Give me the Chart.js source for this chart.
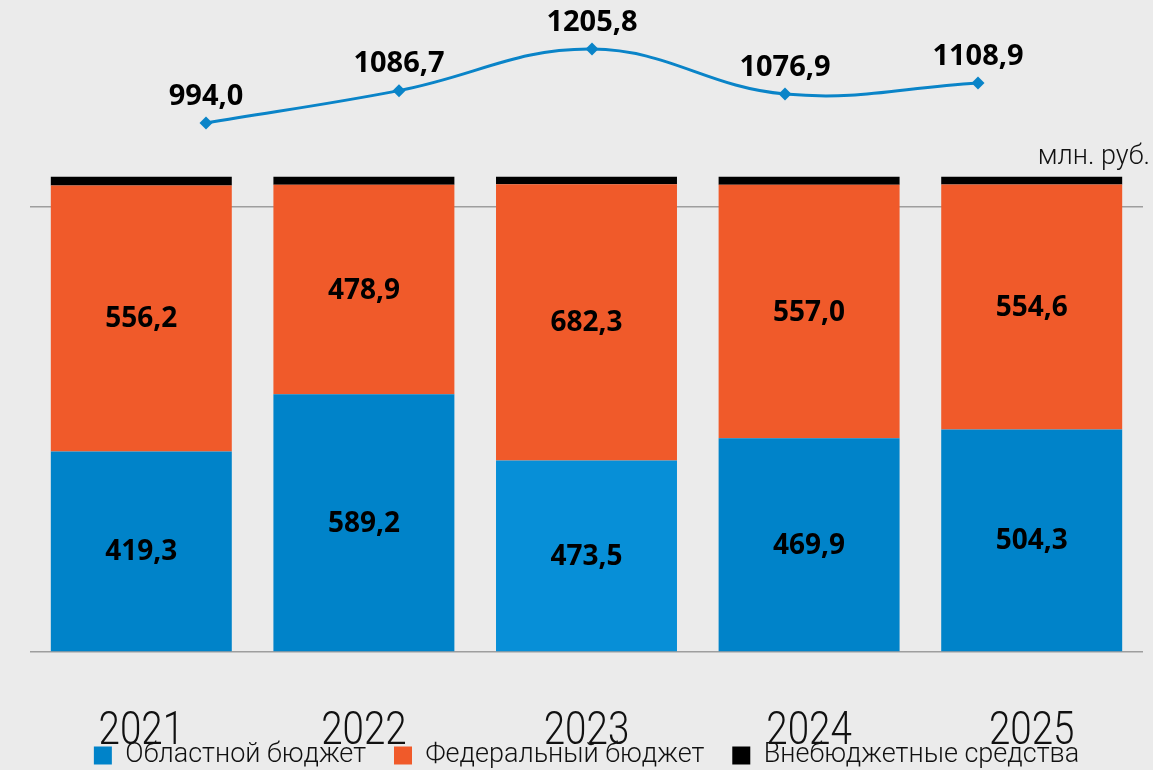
<!DOCTYPE html>
<html lang="ru">
<head>
<meta charset="utf-8">
<title>Бюджет по годам</title>
<script src="https://cdn.jsdelivr.net/npm/chart.js@4.4.1/dist/chart.umd.min.js"></script>
<style>
    html, body { margin: 0; padding: 0; background: #ebebeb; }
    #wrap { width: 1153px; height: 770px; }
</style>
</head>
<body>
<div id="wrap"><canvas id="chart" width="1153" height="770"></canvas></div>
<script>
// Данные (млн. руб.)
const years = ['2021', '2022', '2023', '2024', '2025'];
const regional = [419.3, 589.2, 473.5, 469.9, 504.3];   // Областной бюджет
const federal = [556.2, 478.9, 682.3, 557.0, 554.6];    // Федеральный бюджет
const offBudget = [18.5, 18.6, 19.0, 18.0, 18.0];       // Внебюджетные средства (оценка по рисунку)
const totals = [994.0, 1086.7, 1205.8, 1076.9, 1108.9];

const seriesNames = ['Областной бюджет', 'Федеральный бюджет', 'Внебюджетные средства'];

const BLUE = '#0083c9';
const BLUE_LIGHT = '#078fd7';
const ORANGE = '#f05a2a';
const BLACK = '#000000';
const LINE_BLUE = '#0a84c8';

// столбцы одинаковой высоты: доли от суммы
const sums = years.map((_, i) => regional[i] + federal[i] + offBudget[i]);
const share = arr => arr.map((v, i) => v / sums[i] * 100);

const fmt = v => v.toFixed(1).replace('.', ',');

const bgPlugin = {
    id: 'bg',
    beforeDraw(chart) {
        const { ctx, width, height } = chart;
        ctx.save();
        ctx.fillStyle = '#ebebeb';
        ctx.fillRect(0, 0, width, height);
        ctx.restore();
    },
};

const labelsPlugin = {
    id: 'valueLabels',
    afterDatasetsDraw(chart) {
        const { ctx } = chart;
        ctx.save();
        ctx.fillStyle = '#000';
        ctx.textAlign = 'center';

        // подписи внутри столбцов
        ctx.font = '700 28px "Open Sans", sans-serif';
        ctx.textBaseline = 'middle';
        [regional, federal].forEach((raw, di) => {
            chart.getDatasetMeta(di).data.forEach((bar, i) => {
                const yMid = (bar.y + bar.base) / 2;
                ctx.fillText(fmt(raw[i]), bar.x, yMid + 1);
            });
        });

        // подписи над линией
        ctx.font = '700 29px "Open Sans", sans-serif';
        ctx.textBaseline = 'bottom';
        chart.getDatasetMeta(3).data.forEach((pt, i) => {
            ctx.fillText(fmt(totals[i]), pt.x, pt.y - 12);
        });
        ctx.restore();
    },
    afterDraw(chart) {
        const { ctx } = chart;
        const xScale = chart.scales.x;
        ctx.save();
        ctx.fillStyle = '#111';

        // годы под столбцами (узкий светлый шрифт)
        ctx.font = '300 47px Roboto, sans-serif';
        ctx.textAlign = 'center';
        ctx.textBaseline = 'alphabetic';
        years.forEach((y, i) => {
            const x = xScale.getPixelForValue(i);
            ctx.save();
            ctx.translate(x, 744);
            ctx.scale(0.82, 1);
            ctx.fillText(y, 0, 0);
            ctx.restore();
        });

        // единицы измерения
        ctx.font = '300 27px Roboto, sans-serif';
        ctx.textAlign = 'right';
        ctx.fillText('млн. руб.', 1150, 164);
        ctx.restore();
    },
};

new Chart(document.getElementById('chart'), {
    type: 'bar',
    data: {
        labels: years,
        datasets: [
            {
                label: seriesNames[0],
                data: share(regional),
                backgroundColor: years.map(y => (y === '2023' ? BLUE_LIGHT : BLUE)),
                order: 2,
            },
            {
                label: seriesNames[1],
                data: share(federal),
                backgroundColor: ORANGE,
                order: 2,
            },
            {
                label: seriesNames[2],
                data: share(offBudget),
                backgroundColor: BLACK,
                order: 2,
            },
            {
                type: 'line',
                label: 'Всего',
                data: totals.map((v, i) => ({ x: i, y: v })),
                xAxisID: 'x2',
                yAxisID: 'y2',
                borderColor: LINE_BLUE,
                backgroundColor: LINE_BLUE,
                borderWidth: 3,
                tension: 0.4,
                pointStyle: 'rectRot',
                pointRadius: 6.5,
                pointBorderWidth: 0,
                clip: false,
                order: 1,
            },
        ],
    },
    options: {
        responsive: false,
        animation: false,
        layout: { padding: { left: 30, right: 10, top: 0, bottom: -9 } },
        datasets: {
            bar: { categoryPercentage: 1, barPercentage: 0.813, grouped: false },
        },
        scales: {
            x: {
                stacked: true,
                grid: { display: false },
                border: { display: false },
                ticks: { display: false },
                afterFit(scale) { scale.height = 62; },
            },
            y: {
                stacked: true,
                min: 0,
                max: 135.8,
                border: { display: false },
                grid: { color: '#9e9e9e', lineWidth: 1.5, drawTicks: false },
                ticks: { display: false },
                afterBuildTicks(scale) {
                    scale.ticks = [{ value: 0 }, { value: 93.7 }];
                },
            },
            x2: { type: 'linear', display: false, offset: false, min: -0.912, max: 4.855 },
            y2: { type: 'linear', display: false, min: -523, max: 1328 },
        },
        plugins: {
            legend: {
                position: 'bottom',
                labels: {
                    filter: item => item.datasetIndex < 3,
                    boxWidth: 18,
                    boxHeight: 18,
                    padding: 28,
                    color: '#111',
                    font: { family: 'Roboto, sans-serif', size: 27, weight: '300' },
                },
            },
            tooltip: { enabled: false },
        },
    },
    plugins: [bgPlugin, labelsPlugin],
});
</script>
</body>
</html>
